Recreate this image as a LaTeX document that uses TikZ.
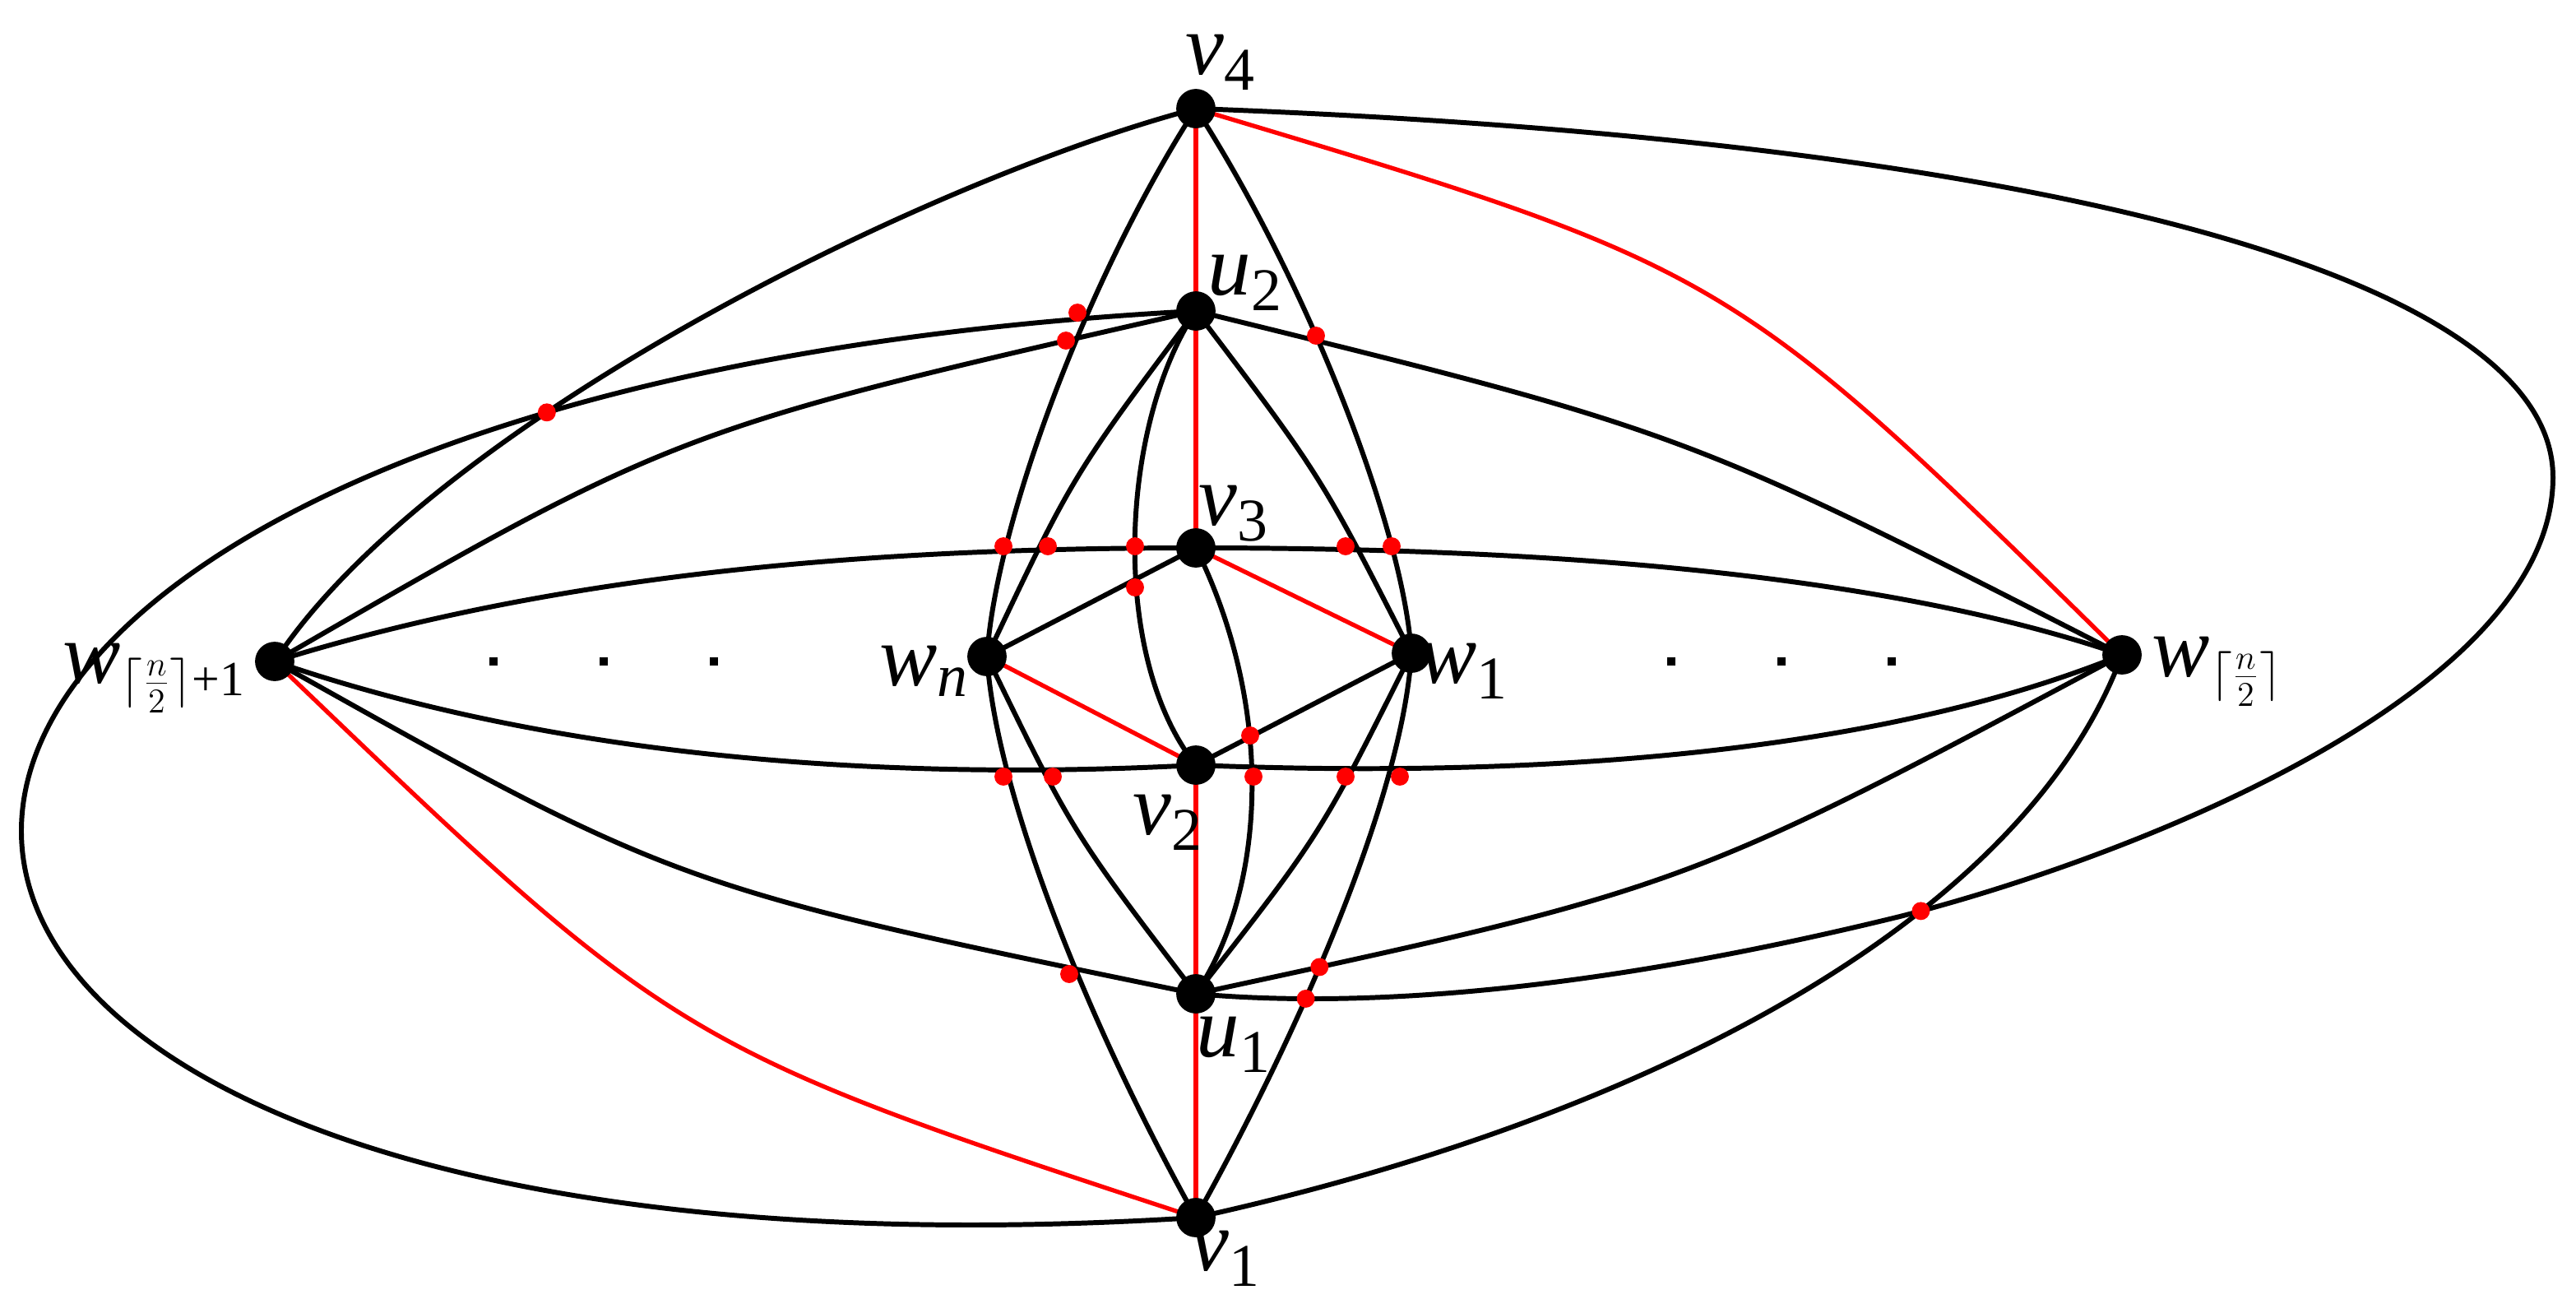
\documentclass[tikz,border=0pt]{standalone}
\usepackage{fontspec}
\setmainfont{Liberation Serif}
\usetikzlibrary{intersections}
\begin{document}
\begin{tikzpicture}[x=0.02cm,y=-0.02cm,
  vtx/.style={circle,fill=black,inner sep=0pt,minimum size=24*0.567pt},
  rdot/.style={circle,fill=red,inner sep=0pt,minimum size=11*0.567pt},
  bl/.style={black,line width=1.7pt},
  rd/.style={red,line width=1.5pt},
  lab/.style={font=\fontsize{30}{36}\selectfont\itshape,inner sep=0pt}]
\useasboundingbox (0,0) rectangle (1566,798);
\coordinate (v4) at (727,66);
\coordinate (u2) at (727,189);
\coordinate (v3) at (727,333);
\coordinate (wn) at (600,399);
\coordinate (w1) at (858,397);
\coordinate (v2) at (727,465);
\coordinate (u1) at (727,604);
\coordinate (v1) at (727,740);
\coordinate (wl) at (167,402);
\coordinate (wr) at (1290,398);
\coordinate (bR) at (1552,290);
\coordinate (bM) at (1155,557);
% black curves
\draw[bl,name path=A] (v4) .. controls (560,110) and (260,260) .. (wl);
\draw[bl,name path=B] (v4) .. controls (1250,85) and (1552,170) .. (bR)
   .. controls (1552,420) and (1300,520) .. (bM)
   .. controls (1000,595) and (850,615) .. (u1);
\draw[bl,name path=C] (u2) .. controls (-230,240) and (-220,800) .. (v1);
\draw[bl,name path=D] (v1) .. controls (1000,680) and (1230,560) .. (wr);
\draw[bl] (u2) .. controls (411,261) .. (wl);
\draw[bl] (u2) .. controls (1024,262) .. (wr);
\draw[bl] (u1) .. controls (411,539) .. (wl);
\draw[bl,name path=E] (u1) .. controls (1024,540) .. (wr);
\draw[bl] (wl) .. controls (350,345) and (550,333) .. (v3);
\draw[bl] (v3) .. controls (950,333) and (1150,350) .. (wr);
\draw[bl] (wl) .. controls (350,465) and (560,474) .. (v2);
\draw[bl] (v2) .. controls (950,474) and (1150,455) .. (wr);
\draw[bl] (v4) .. controls (660,170) and (605,320) .. (wn);
\draw[bl] (wn) .. controls (605,480) and (660,620) .. (v1);
\draw[bl] (v4) .. controls (794,170) and (853,320) .. (w1);
\draw[bl,name path=F] (w1) .. controls (853,480) and (794,620) .. (v1);
\draw[bl] (u2) .. controls (652,289) .. (wn);
\draw[bl] (u2) .. controls (803,289) .. (w1);
\draw[bl] (u1) .. controls (652,506) .. (wn);
\draw[bl] (u1) .. controls (803,507) .. (w1);
\draw[bl] (u2) .. controls (680,260) and (675,400) .. (v2);
\draw[bl] (v3) .. controls (775,430) and (770,540) .. (u1);
\draw[bl] (v3) -- (wn);
\draw[bl] (v2) -- (w1);
% red
\draw[rd] (v4) .. controls (1051,163) .. (wr);
\draw[rd] (v1) .. controls (411,636) .. (wl);
\draw[rd] (v4) -- (u2) -- (v3);
\draw[rd] (v2) -- (u1) -- (v1);
\draw[rd] (v3) -- (w1);
\draw[rd] (wn) -- (v2);
% vertices
\foreach \p in {v4,u2,v3,wn,w1,v2,u1,v1,wl,wr} \node[vtx] (n\p) at (\p) {};
% crossing dots
\foreach \x/\y [count=\i] in {655/190,648/207,800/204,610/332,637/332,690/332,818/332,846/332,690/357,760/447,610/472,640/472,762/472,818/472,851/472,650/592}
  \node[rdot] (d\i) at (\x,\y) {};
\path[name intersections={of=A and C,by=xl}];
\path[name intersections={of=B and D,by=xr}];
\path[name intersections={of=B and F,by=xb}];
\path[name intersections={of=E and F,by=xe}];
\node[rdot] (dl) at (xl) {};
\node[rdot] (dr) at (xr) {};
\node[rdot] (db) at (xb) {};
\node[rdot] (de) at (xe) {};
% ellipsis dots
\foreach \x [count=\i] in {300,367,434,1016,1083,1150}
  \node[fill=black,inner sep=0pt,minimum size=5*0.567pt] (e\i) at (\x,402) {};
% labels
\node[lab] (lv4) at (742,38) {v\textsubscript{\upshape 4}};
\node[lab] (lu2) at (757,172) {u\textsubscript{\upshape 2}};
\node[lab] (lv3) at (750,312) {v\textsubscript{\upshape 3}};
\node[lab] (lwn) at (562,408) {w\textsubscript{n}};
\node[lab] (lw1) at (890,408) {w\textsubscript{\upshape 1}};
\node[lab] (lv2) at (710,500) {v\textsubscript{\upshape 2}};
\node[lab] (lu1) at (750,635) {u\textsubscript{\upshape 1}};
\node[lab] (lv1) at (745,765) {v\textsubscript{\upshape 1}};
\node[lab,anchor=east] (lwl) at (150,412) {w\textsubscript{\upshape\fontsize{17}{18}\selectfont$\lceil\frac{n}{2}\rceil$+1}};
\node[lab,anchor=west] (lwr) at (1308,408) {w\textsubscript{\upshape\fontsize{17}{18}\selectfont$\lceil\frac{n}{2}\rceil$}};
\end{tikzpicture}
\end{document}
